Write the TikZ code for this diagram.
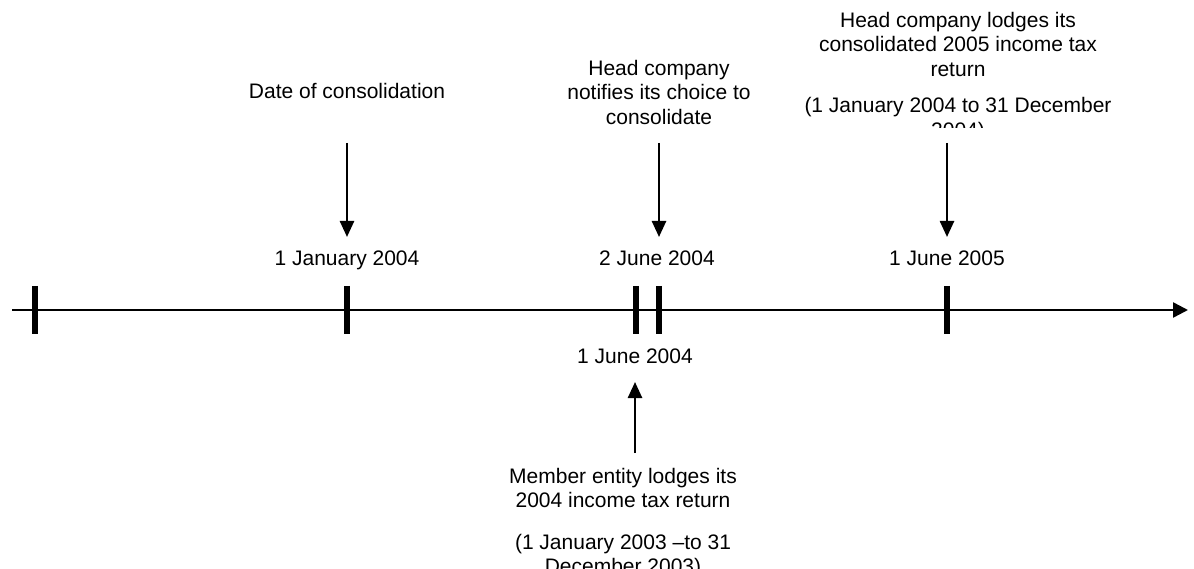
\documentclass[tikz,border=0pt]{standalone}
\usepackage{fontspec}
\setmainfont{Liberation Sans}
\usetikzlibrary{arrows.meta}
\begin{document}
\begin{tikzpicture}[x=1pt,y=-1pt,
   txt/.style={font=\fontsize{21}{24.5}\selectfont,align=center,inner sep=0pt},
   datemark/.style={line width=5.5pt},
   pointer/.style={line width=2.5pt,-{Triangle[length=16pt,width=14pt]}}]
   \clip (0,0) rectangle (1194,569);

   % time line
   \coordinate (start) at (12,310);
   \coordinate (end) at (1188,310);
   \draw[line width=2.5pt,-{Triangle[length=15pt,width=15pt]}] (start) -- (end);

   \draw[datemark] (35,286) -- (35,334);
   \draw[datemark] (347,286) -- (347,334);
   \draw[datemark] (636,286) -- (636,334);
   \draw[datemark] (659,286) -- (659,334);
   \draw[datemark] (947,286) -- (947,334);
   %%%%%%%%%%
   \node[txt,anchor=base] (jan04) at (347,266) {1 January 2004};
   \node[txt,anchor=base] (june2) at (657,266) {2 June 2004};
   \node[txt,anchor=base] (june05) at (947,266) {1 June 2005};
   \node[txt,anchor=base] (june1) at (635,363) {1 June 2004};
   %%%%%%%%%%
   \node[txt,anchor=north] (consol) at (347,83) {Date of consolidation};
   \coordinate (consolA) at (347,143);
   \coordinate (consolB) at (347,237);
   \draw[pointer] (consolA) -- (consolB);

   \node[txt,anchor=north] (notify) at (659,60) {Head company\\notifies its choice to\\consolidate};
   \coordinate (notifyA) at (659,143);
   \coordinate (notifyB) at (659,237);
   \draw[pointer] (notifyA) -- (notifyB);

   \begin{scope}
   \clip (770,0) rectangle (1150,128);
   \node[txt,anchor=north] (lodge) at (958,12) {Head company lodges its\\consolidated 2005 income tax\\return\\[12pt](1 January 2004 to 31 December\\2004)};
   \end{scope}
   \coordinate (lodgeA) at (947,143);
   \coordinate (lodgeB) at (947,237);
   \draw[pointer] (lodgeA) -- (lodgeB);
   %%%%%%%%%%
   \node[txt,anchor=north] (member) at (623,468) {Member entity lodges its\\2004 income tax return\\[17pt](1 January 2003 \textendash{}to 31\\December 2003)};
   \coordinate (memberA) at (635,453);
   \coordinate (memberB) at (635,382);
   \draw[pointer] (memberA) -- (memberB);
\end{tikzpicture}
\end{document}
